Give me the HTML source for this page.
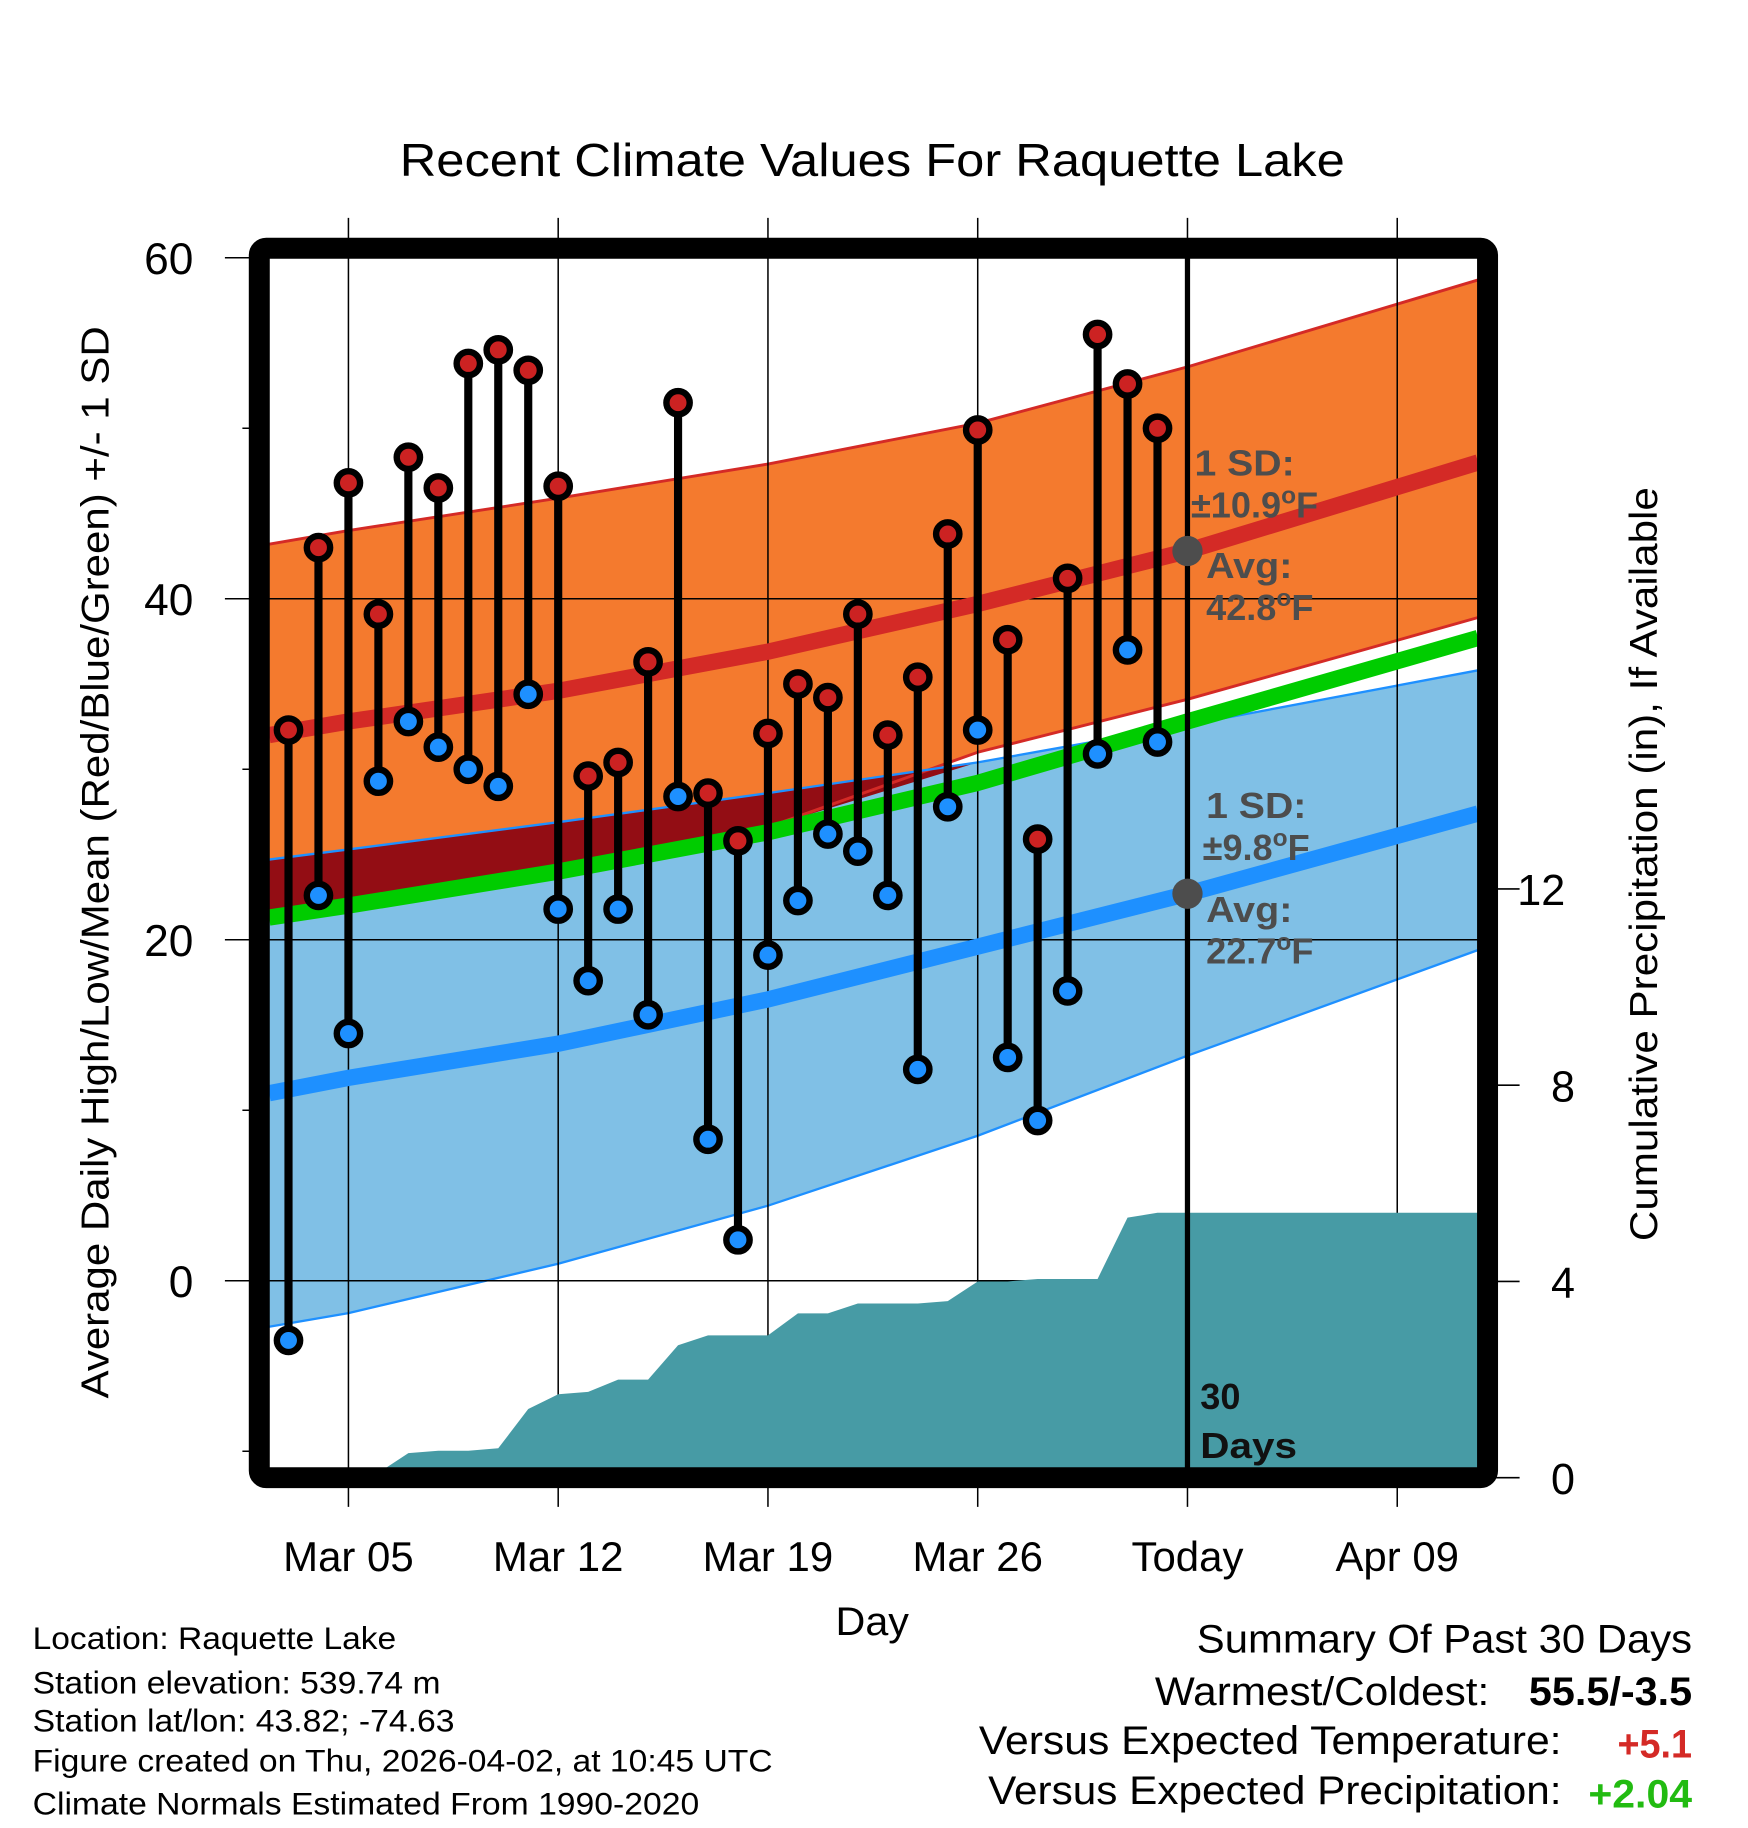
<!DOCTYPE html>
<html><head><meta charset="utf-8"><style>
html,body{margin:0;padding:0;background:#fff;}
svg{display:block;font-family:"Liberation Sans",Arial,sans-serif;}
</style></head><body>
<svg id="chart" width="1748" height="1828" viewBox="0 0 1500 1568.6" preserveAspectRatio="none" xmlns="http://www.w3.org/2000/svg">
<g id="bands"></g>
<g id="grid"></g>
<g id="precip"></g>
<g id="lines"></g>
<g id="annot"></g>
<g id="marks"></g>
<g id="frame"></g>
<g id="axes"></g>
<text x="343" y="151" font-size="40" textLength="811" lengthAdjust="spacingAndGlyphs">Recent Climate Values For Raquette Lake</text>
<text x="0" y="0" font-size="33" textLength="920" lengthAdjust="spacingAndGlyphs" transform="translate(93,1200) rotate(-90)">Average Daily High/Low/Mean (Red/Blue/Green) +/- 1 SD</text>
<text x="0" y="0" font-size="33" textLength="647" lengthAdjust="spacingAndGlyphs" transform="translate(1422,1065) rotate(-90)">Cumulative Precipitation (in), If Available</text>
<text x="717" y="1403" font-size="34" textLength="63" lengthAdjust="spacingAndGlyphs">Day</text>
<g font-size="27" lengthAdjust="spacingAndGlyphs">
<text x="28" y="1415" textLength="312" lengthAdjust="spacingAndGlyphs">Location: Raquette Lake</text>
<text x="28" y="1453" textLength="350" lengthAdjust="spacingAndGlyphs">Station elevation: 539.74 m</text>
<text x="28" y="1486" textLength="362" lengthAdjust="spacingAndGlyphs">Station lat/lon: 43.82; -74.63</text>
<text x="28" y="1520" textLength="635" lengthAdjust="spacingAndGlyphs">Figure created on Thu, 2026-04-02, at 10:45 UTC</text>
<text x="28" y="1557" textLength="572" lengthAdjust="spacingAndGlyphs">Climate Normals Estimated From 1990-2020</text>
</g>
<g font-size="34">
<text x="1027" y="1418" textLength="425" lengthAdjust="spacingAndGlyphs">Summary Of Past 30 Days</text>
<text x="991" y="1463" textLength="287" lengthAdjust="spacingAndGlyphs">Warmest/Coldest:</text>
<text x="1312" y="1463" font-weight="bold" textLength="140" lengthAdjust="spacingAndGlyphs">55.5/-3.5</text>
<text x="840" y="1505" textLength="500" lengthAdjust="spacingAndGlyphs">Versus Expected Temperature:</text>
<text x="1388" y="1508" font-weight="bold" fill="#d42a26" textLength="64" lengthAdjust="spacingAndGlyphs">+5.1</text>
<text x="848" y="1548" textLength="492" lengthAdjust="spacingAndGlyphs">Versus Expected Precipitation:</text>
<text x="1363" y="1551" font-weight="bold" fill="#22bb11" textLength="89" lengthAdjust="spacingAndGlyphs">+2.04</text>
</g>
</svg>
<script>
// ---- data ----
const days = [3,4,5,6,7,8,9,10,11,12,13,14,15,16,17,18,19,20,21,22,23,24,25,26,27,28,29,30,31,32];
const highs = [32.3,43,46.8,39.1,48.3,46.5,53.8,54.6,53.4,46.6,29.6,30.4,36.3,51.5,28.6,25.8,32.1,35,34.2,39.1,32,35.4,43.8,49.9,37.6,25.9,41.2,55.5,52.6,50];
const lows = [-3.5,22.6,14.5,29.3,32.8,31.3,30,29,34.4,21.8,17.6,21.8,15.6,28.4,8.3,2.4,19.1,22.3,26.2,25.2,22.6,12.4,27.8,32.3,13.1,9.4,17,30.9,37,31.6];
const precip = [0,0,0,0.1,0.5,0.55,0.55,0.6,1.4,1.7,1.75,2.0,2.0,2.7,2.9,2.9,2.9,3.35,3.35,3.55,3.55,3.55,3.6,4.0,4.0,4.05,4.05,4.05,5.3,5.4];
const normDays = [2.35,5,12,19,26,33,42.7];
const highAvg = [32.0,32.8,34.6,36.9,39.7,42.8,48.0];
const highTop = [43.2,44.0,45.9,47.9,50.3,53.6,58.7];
const highBot = [21.2,22.0,24.2,26.6,31.0,34.1,38.9];
const lowAvg = [11.0,11.9,13.9,16.5,19.6,22.7,27.4];
const lowTop = [24.7,25.3,26.9,28.6,30.4,32.6,35.8];
const lowBot = [-2.7,-1.9,1.0,4.4,8.5,13.2,19.4];
const meanAvg = [21.3,22.0,24.0,26.3,29.2,32.8,37.7];
const yTicks = [0,20,40,60];
const yMinor = [-10,10,30,50];
const y2Ticks = [0,4,8,12];
const xTickDays = [5,12,19,26,33,40];
const xTickLabels = ["Mar 05","Mar 12","Mar 19","Mar 26","Today","Apr 09"];
const todayDay = 33;

// ---- axes ----
const X = d => 299 + (d-5)*180/7;
const Y = v => 1099 - v*14.63;
const Y2 = p => 1268 - p*42.1;
const NS='http://www.w3.org/2000/svg';
function mk(tag, parent, attrs){const e=document.createElementNS(NS,tag);for(const k in attrs)e.setAttribute(k,attrs[k]);parent.appendChild(e);return e;}
const L=231,R=1268,T=221,B=1260;
function pts(arr){return normDays.map((d,i)=>X(d).toFixed(1)+','+Y(arr[i]).toFixed(1));}
function band(top,bot){return pts(top).concat(pts(bot).reverse()).join(' ');}

const bands=document.getElementById('bands');
let e=mk('polygon',bands,{points:band(highTop,highBot),fill:'#f47a2e'});


e=mk('polygon',bands,{points:band(lowTop,lowBot),fill:'#80c0e6'});


const ovTop=lowTop, ovBot=lowTop.map((v,i)=>Math.min(v,highBot[i]));
e=mk('polygon',bands,{points:band(ovTop,ovBot),fill:'#930d14'});


[[highTop,'#d42a26',2.5],[highBot,'#d42a26',2.5],[lowTop,'#1e90ff',2],[lowBot,'#1e90ff',2]].forEach(([a,c,w])=>{
  const l=mk('polyline',bands,{points:pts(a).join(' '),fill:'none',stroke:c,'stroke-width':w});
  
  
});

const grid=document.getElementById('grid');
xTickDays.forEach(d=>{const l=mk('line',grid,{x1:X(d),x2:X(d),y1:187,y2:1293,stroke:'#000','stroke-width':1.3});
  
  });
yTicks.forEach(v=>{const l=mk('line',grid,{x1:193,x2:R,y1:Y(v),y2:Y(v),stroke:'#000','stroke-width':1.3});
  
  });

const pg=document.getElementById('precip');
let pp=[X(days[0])+','+Y2(0)];
days.forEach((d,i)=>pp.push(X(d)+','+Y2(precip[i])));
pp.push(R+','+Y2(precip[precip.length-1]));pp.push(R+','+Y2(0));pp.push(L+','+Y2(0));
e=mk('polygon',pg,{points:pp.join(' '),fill:'#479ba5'});



const lg=document.getElementById('lines');
[[meanAvg,'#00cc00','mean-avg-line'],[highAvg,'#d42a26','high-avg-line'],[lowAvg,'#1e90ff','low-avg-line']].forEach(([a,c,n])=>{
  const l=mk('polyline',lg,{points:pts(a).join(' '),fill:'none',stroke:c,'stroke-width':14});
  
  
});
e=mk('line',lg,{x1:X(todayDay),x2:X(todayDay),y1:T,y2:B,stroke:'#000','stroke-width':4.5});



const an=document.getElementById('annot');
function txt(p,x,y,s,attrs){const t=mk('text',p,Object.assign({x:x,y:y},attrs||{}));t.textContent=s;return t;}
const ga={'font-size':31,'font-weight':'bold',fill:'#4d4d4d'};
e=mk('circle',an,{cx:X(todayDay),cy:Y(42.8),r:13,fill:'#4d4d4d'});


e=mk('circle',an,{cx:X(todayDay),cy:Y(22.7),r:13,fill:'#4d4d4d'});


let g=mk('g',an,ga);


g.innerHTML='<text x="1025" y="408" textLength="86" lengthAdjust="spacingAndGlyphs">1 SD:</text><text x="1022" y="444">±10.9<tspan dy="-12" font-size="21">o</tspan><tspan dy="12">F</tspan></text><text x="1035" y="496" textLength="74" lengthAdjust="spacingAndGlyphs">Avg:</text><text x="1035" y="532">42.8<tspan dy="-12" font-size="21">o</tspan><tspan dy="12">F</tspan></text>';
g=mk('g',an,ga);


g.innerHTML='<text x="1035" y="702" textLength="86" lengthAdjust="spacingAndGlyphs">1 SD:</text><text x="1032" y="738">±9.8<tspan dy="-12" font-size="21">o</tspan><tspan dy="12">F</tspan></text><text x="1035" y="791" textLength="74" lengthAdjust="spacingAndGlyphs">Avg:</text><text x="1035" y="827">22.7<tspan dy="-12" font-size="21">o</tspan><tspan dy="12">F</tspan></text>';
g=mk('g',an,{'font-size':31,'font-weight':'bold',fill:'#111'});


g.innerHTML='<text x="1030" y="1209">30</text><text x="1030" y="1251" textLength="83" lengthAdjust="spacingAndGlyphs">Days</text>';

const mg=document.getElementById('marks');
days.forEach((d,i)=>{
  const s=mk('line',mg,{x1:X(d),x2:X(d),y1:Y(highs[i]),y2:Y(lows[i]),stroke:'#000','stroke-width':7});
  
  
});
days.forEach((d,i)=>{
  const h=mk('circle',mg,{cx:X(d),cy:Y(highs[i]),r:10,fill:'#cc2222',stroke:'#000','stroke-width':5.5});
  
  
  const l=mk('circle',mg,{cx:X(d),cy:Y(lows[i]),r:10,fill:'#1e90ff',stroke:'#000','stroke-width':5.5});
  
  
});

const fr=document.getElementById('frame');
e=mk('rect',fr,{x:222.5,y:213,width:1054,height:1055,fill:'none',stroke:'#000','stroke-width':18,rx:6});



const ax=document.getElementById('axes');
yTicks.forEach(v=>{
  const t=txt(ax,166,Y(v)+14,String(v),{'font-size':38,'text-anchor':'end'});
  
  
});
yMinor.forEach(v=>{
  const l=mk('line',ax,{x1:208,x2:222,y1:Y(v),y2:Y(v),stroke:'#000','stroke-width':1.3});
  
  
});
y2Ticks.forEach(p=>{
  const l=mk('line',ax,{x1:1280,x2:1304,y1:Y2(p),y2:Y2(p),stroke:'#000','stroke-width':1.3});
  
  
  const t=txt(ax,p>=10?1302:1331,Y2(p)+14,String(p),{'font-size':37});
  
  
});
xTickDays.forEach((d,i)=>{
  const t=txt(ax,X(d),1348,xTickLabels[i],{'font-size':36,'text-anchor':'middle'});
  
  
});
</script>
</body></html>
